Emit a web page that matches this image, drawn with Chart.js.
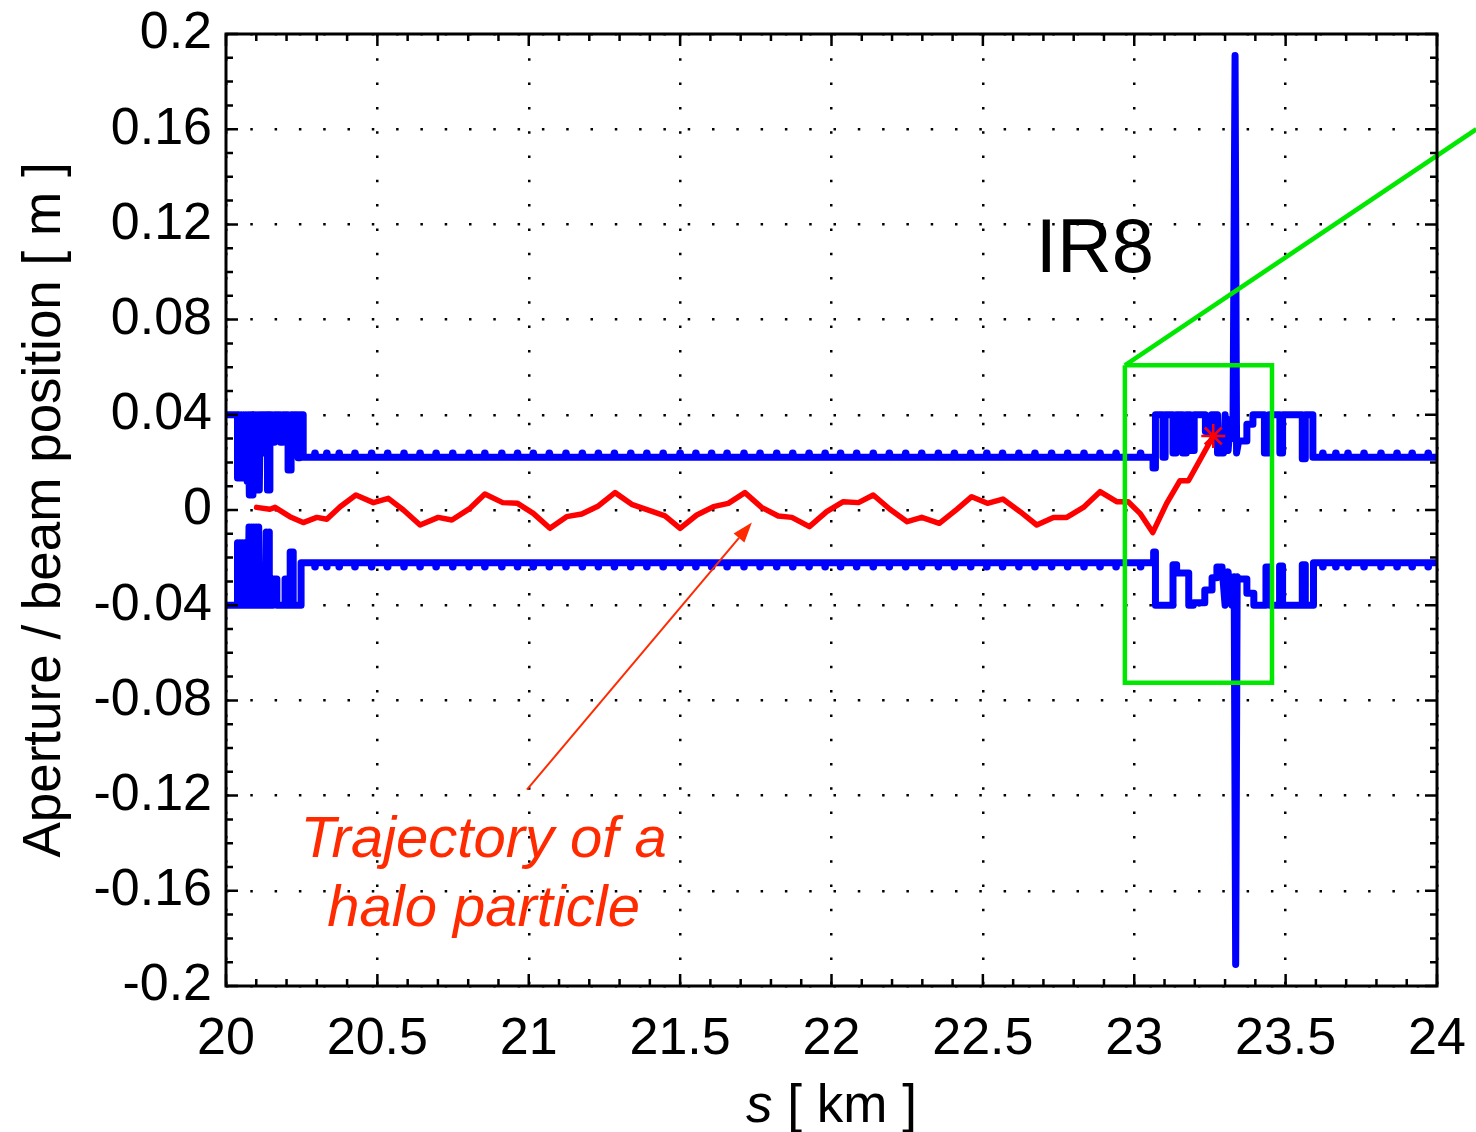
<!DOCTYPE html>
<html>
<head>
<meta charset="utf-8">
<title>Aperture / beam position around IR8</title>
<script src="https://cdn.jsdelivr.net/npm/chart.js@4.4.1/dist/chart.umd.min.js"></script>
<style>
  html, body { margin: 0; padding: 0; background: #fff; }
  canvas { display: block; }
</style>
</head>
<body>
<canvas id="aperture-chart" width="1476" height="1132"></canvas>
<script>
// Axis ticks
const xTickValues = [20, 20.5, 21, 21.5, 22, 22.5, 23, 23.5, 24];
const xTickLabels = ['20', '20.5', '21', '21.5', '22', '22.5', '23', '23.5', '24'];
const yTickValues = [-0.2, -0.16, -0.12, -0.08, -0.04, 0, 0.04, 0.08, 0.12, 0.16, 0.2];
const yTickLabels = ['-0.2', '-0.16', '-0.12', '-0.08', '-0.04', '0', '0.04', '0.08', '0.12', '0.16', '0.2'];

// Upper aperture [s (km), position (m)]
const upperAperture = [
  [20.000, 0.040], [20.038, 0.040], [20.038, 0.0134], [20.042, 0.040], [20.046, 0.0134],
  [20.050, 0.040], [20.054, 0.0134], [20.058, 0.040], [20.062, 0.0140], [20.066, 0.040],
  [20.070, 0.0120], [20.074, 0.040], [20.077, 0.0063], [20.080, 0.040], [20.083, 0.0063],
  [20.086, 0.040], [20.089, 0.0063], [20.092, 0.040], [20.095, 0.0084], [20.099, 0.040],
  [20.103, 0.0084], [20.107, 0.040], [20.110, 0.0084], [20.113, 0.040], [20.119, 0.040],
  [20.119, 0.024], [20.124, 0.024], [20.124, 0.040], [20.137, 0.040], [20.137, 0.0084],
  [20.141, 0.040], [20.145, 0.0084], [20.145, 0.040],
  [20.152, 0.040], [20.152, 0.0285], [20.160, 0.0285], [20.160, 0.040], [20.180, 0.040],
  [20.180, 0.0285], [20.188, 0.0285], [20.188, 0.040], [20.205, 0.040], [20.205, 0.0168],
  [20.215, 0.0168], [20.215, 0.040], [20.238, 0.040], [20.238, 0.022], [20.244, 0.022],
  [20.244, 0.040], [20.255, 0.040], [20.255, 0.0222],
  [23.062, 0.0222], [23.062, 0.0176], [23.070, 0.0176], [23.070, 0.040], [23.095, 0.040],
  [23.095, 0.0222], [23.102, 0.0222], [23.102, 0.040], [23.128, 0.040], [23.128, 0.024],
  [23.138, 0.024], [23.138, 0.040], [23.160, 0.040], [23.160, 0.024], [23.172, 0.024],
  [23.172, 0.040], [23.185, 0.040], [23.185, 0.025], [23.198, 0.025], [23.198, 0.040],
  [23.235, 0.040], [23.235, 0.033], [23.255, 0.033], [23.255, 0.040], [23.275, 0.040],
  [23.275, 0.024], [23.295, 0.024], [23.300, 0.040], [23.310, 0.025], [23.318, 0.038],
  [23.326, 0.030], [23.333, 0.191], [23.338, 0.024], [23.345, 0.029], [23.372, 0.029],
  [23.372, 0.036], [23.392, 0.036], [23.392, 0.040], [23.430, 0.040], [23.430, 0.024],
  [23.445, 0.024], [23.445, 0.040], [23.481, 0.040], [23.481, 0.024], [23.490, 0.024],
  [23.490, 0.040], [23.555, 0.040], [23.555, 0.0215], [23.565, 0.0215], [23.565, 0.040],
  [23.590, 0.040], [23.590, 0.0222], [24.000, 0.0222]
];

// Lower aperture [s (km), position (m)]
const lowerAperture = [
  [20.000, -0.040], [20.038, -0.040], [20.038, -0.0138], [20.042, -0.040], [20.046, -0.0138],
  [20.050, -0.040], [20.054, -0.0138], [20.058, -0.040], [20.062, -0.0138], [20.066, -0.040],
  [20.070, -0.0138], [20.073, -0.040], [20.076, -0.0071], [20.080, -0.040], [20.084, -0.0071],
  [20.088, -0.040], [20.092, -0.0071], [20.096, -0.040], [20.100, -0.0071], [20.104, -0.040],
  [20.108, -0.0071], [20.112, -0.040],
  [20.112, -0.040], [20.133, -0.040], [20.133, -0.0092], [20.138, -0.040], [20.143, -0.0092],
  [20.143, -0.040], [20.155, -0.040], [20.155, -0.029], [20.168, -0.029], [20.168, -0.040],
  [20.195, -0.040], [20.195, -0.029], [20.205, -0.029], [20.205, -0.040], [20.212, -0.040],
  [20.212, -0.0176], [20.222, -0.0176], [20.222, -0.040], [20.248, -0.040], [20.248, -0.0222],
  [23.064, -0.0222], [23.064, -0.0176], [23.070, -0.0176], [23.070, -0.040], [23.128, -0.040],
  [23.128, -0.023], [23.140, -0.023], [23.140, -0.0265], [23.180, -0.0265], [23.180, -0.040],
  [23.195, -0.040], [23.195, -0.039], [23.233, -0.039], [23.233, -0.0336], [23.257, -0.0336],
  [23.257, -0.0285], [23.273, -0.0285], [23.273, -0.024], [23.290, -0.024], [23.300, -0.040],
  [23.310, -0.026], [23.322, -0.040], [23.330, -0.028], [23.335, -0.191], [23.340, -0.028],
  [23.346, -0.029], [23.372, -0.029], [23.372, -0.035], [23.395, -0.035], [23.395, -0.040],
  [23.435, -0.040], [23.435, -0.024], [23.448, -0.024], [23.448, -0.040], [23.480, -0.040],
  [23.480, -0.0235], [23.490, -0.0235], [23.490, -0.040], [23.555, -0.040], [23.555, -0.023],
  [23.565, -0.023], [23.565, -0.040], [23.592, -0.040], [23.592, -0.0222], [24.000, -0.0222]
];

// Small aperture bumps along the arc (s in km) and their reach (m)
const apertureBumpS = [
  20.294, 20.333, 20.374, 20.426, 20.481, 20.534, 20.588, 20.641, 20.694, 20.749,
  20.803, 20.855, 20.911, 20.963, 21.015, 21.068, 21.123, 21.177, 21.230, 21.283,
  21.337, 21.390, 21.444, 21.500, 21.552, 21.604, 21.655, 21.711, 21.764, 21.819,
  21.872, 21.926, 21.979, 22.030, 22.083, 22.138, 22.191, 22.245, 22.298, 22.353,
  22.406, 22.460, 22.513, 22.565, 22.619, 22.672, 22.727, 22.780, 22.834, 22.887,
  22.940, 23.021, 23.623, 23.666, 23.706, 23.759, 23.815, 23.868, 23.918, 23.971
];
const apertureBumpReach = 0.0238;

// Halo particle trajectory
const trajectoryS = [
  20.101, 20.145, 20.162, 20.211, 20.255, 20.300, 20.333, 20.377, 20.429, 20.487,
  20.536, 20.586, 20.641, 20.701, 20.746, 20.806, 20.855, 20.914, 20.963, 21.015,
  21.070, 21.125, 21.175, 21.230, 21.285, 21.340, 21.400, 21.450, 21.500, 21.555,
  21.610, 21.659, 21.714, 21.769, 21.824, 21.869, 21.927, 21.984, 22.039, 22.089,
  22.138, 22.193, 22.250, 22.298, 22.356, 22.414, 22.463, 22.515, 22.566, 22.623,
  22.678, 22.733, 22.777, 22.832, 22.887, 22.942, 22.980, 23.019, 23.061, 23.107,
  23.151, 23.179, 23.217, 23.261
];
const trajectoryX = [
  0.0011, 0.0003, 0.0011, -0.0028, -0.0053, -0.0031, -0.0039, 0.0014, 0.0063, 0.0031,
  0.0049, 0.0000, -0.0063, -0.0031, -0.0042, 0.0007, 0.0067, 0.0031, 0.0028, -0.0014,
  -0.0077, -0.0028, -0.0017, 0.0017, 0.0073, 0.0024, -0.0003, -0.0025, -0.0077, -0.0021,
  0.0014, 0.0028, 0.0073, 0.0011, -0.0025, -0.0031, -0.0070, -0.0007, 0.0035, 0.0031,
  0.0063, 0.0003, -0.0049, -0.0031, -0.0056, 0.0003, 0.0056, 0.0028, 0.0046, -0.0007,
  -0.0063, -0.0031, -0.0031, 0.0011, 0.0077, 0.0035, 0.0035, -0.0014, -0.0095, 0.0028,
  0.0123, 0.0123, 0.0210, 0.0311
];
const lossPoint = [23.261, 0.0311];

// Zoom box around IR8 and its lead line
const zoomBox = [[22.969, 0.0608], [23.455, 0.0608], [23.455, -0.0726], [22.969, -0.0726], [22.969, 0.0608]];
const zoomLead = [[22.969, 0.0608], [24.13, 0.160]];

// Annotations (data coordinates)
const irLabel = { text: 'IR8', s: 22.675, x: 0.0999 };
const haloLabelLines = ['Trajectory of a', 'halo particle'];
const haloLabelAt = [20.851, -0.146];
const arrowFrom = [20.994, -0.1175];
const arrowTo = [21.737, -0.0053];

const FONT = '"Liberation Sans", Arial, Helvetica, sans-serif';
const annotationColor = '#ff2a00';

function toPoints(pairs) {
  return pairs.map(p => ({ x: p[0], y: p[1] }));
}

const bumpPoints = apertureBumpS.map(s => ({ x: s, y: apertureBumpReach }))
  .concat(apertureBumpS.map(s => ({ x: s, y: -apertureBumpReach })));

const trajectoryPoints = trajectoryS.map((s, i) => ({ x: s, y: trajectoryX[i] }));

// Frame with inward ticks on all four sides
const frameAndTicks = {
  id: 'frameAndTicks',
  afterDatasetsDraw(chart) {
    const { ctx, chartArea: a, scales: { x, y } } = chart;
    ctx.save();
    ctx.strokeStyle = '#000';
    ctx.lineWidth = 2.5;
    ctx.beginPath();
    for (let i = 0; i <= 40; i++) {
      const px = x.getPixelForValue(20 + i * 0.1);
      const len = i % 5 === 0 ? 12 : 7;
      ctx.moveTo(px, a.bottom); ctx.lineTo(px, a.bottom - len);
      ctx.moveTo(px, a.top); ctx.lineTo(px, a.top + len);
    }
    for (let i = 0; i <= 40; i++) {
      const py = y.getPixelForValue(-0.2 + i * 0.01);
      const len = i % 4 === 0 ? 12 : 7;
      ctx.moveTo(a.left, py); ctx.lineTo(a.left + len, py);
      ctx.moveTo(a.right, py); ctx.lineTo(a.right - len, py);
    }
    ctx.stroke();
    ctx.lineWidth = 3;
    ctx.strokeRect(a.left, a.top, a.right - a.left, a.bottom - a.top);
    ctx.restore();
  }
};

// Texts, arrow and axis titles
const annotations = {
  id: 'annotations',
  afterDraw(chart) {
    const { ctx, chartArea: a, scales: { x, y } } = chart;
    ctx.save();

    // IR8 label
    ctx.fillStyle = '#000';
    ctx.font = '76px ' + FONT;
    ctx.textAlign = 'left';
    ctx.textBaseline = 'alphabetic';
    ctx.fillText(irLabel.text, x.getPixelForValue(irLabel.s), y.getPixelForValue(irLabel.x));

    // halo particle label
    ctx.fillStyle = annotationColor;
    ctx.font = 'italic 58px ' + FONT;
    ctx.textAlign = 'center';
    const hx = x.getPixelForValue(haloLabelAt[0]);
    const hy = y.getPixelForValue(haloLabelAt[1]);
    haloLabelLines.forEach((line, i) => ctx.fillText(line, hx, hy + i * 69));

    // arrow
    const x0 = x.getPixelForValue(arrowFrom[0]), y0 = y.getPixelForValue(arrowFrom[1]);
    const x1 = x.getPixelForValue(arrowTo[0]), y1 = y.getPixelForValue(arrowTo[1]);
    const ang = Math.atan2(y1 - y0, x1 - x0);
    const headLen = 20, headHalf = 7;
    const bx = x1 - headLen * Math.cos(ang), by = y1 - headLen * Math.sin(ang);
    ctx.strokeStyle = annotationColor;
    ctx.lineWidth = 2;
    ctx.beginPath();
    ctx.moveTo(x0, y0);
    ctx.lineTo(bx, by);
    ctx.stroke();
    ctx.beginPath();
    ctx.moveTo(x1, y1);
    ctx.lineTo(bx + headHalf * Math.sin(ang), by - headHalf * Math.cos(ang));
    ctx.lineTo(bx - headHalf * Math.sin(ang), by + headHalf * Math.cos(ang));
    ctx.closePath();
    ctx.fill();

    // x axis title: italic s
    ctx.fillStyle = '#000';
    const cx = (a.left + a.right) / 2;
    ctx.font = 'italic 53px ' + FONT;
    const sW = ctx.measureText('s').width;
    ctx.font = '53px ' + FONT;
    const restW = ctx.measureText(' [ km ]').width;
    const startX = cx - (sW + restW) / 2;
    ctx.textAlign = 'left';
    ctx.font = 'italic 53px ' + FONT;
    ctx.fillText('s', startX, 1122);
    ctx.font = '53px ' + FONT;
    ctx.fillText(' [ km ]', startX + sW, 1122);

    // y axis title
    ctx.translate(60, (a.top + a.bottom) / 2);
    ctx.rotate(-Math.PI / 2);
    ctx.textAlign = 'center';
    ctx.fillText('Aperture / beam position [ m ]', 0, 0);
    ctx.restore();
  }
};

Chart.defaults.font.family = FONT;
Chart.defaults.color = '#000';

new Chart(document.getElementById('aperture-chart'), {
  type: 'scatter',
  data: {
    datasets: [
      {
        label: 'zoom box',
        data: toPoints(zoomBox),
        showLine: true,
        borderColor: '#00e800',
        borderWidth: 4.5,
        pointRadius: 0,
        clip: false
      },
      {
        label: 'zoom lead',
        data: toPoints(zoomLead),
        showLine: true,
        borderColor: '#00e800',
        borderWidth: 4.5,
        pointRadius: 0,
        clip: false
      },
      {
        label: 'loss point',
        data: toPoints([lossPoint]),
        pointStyle: 'star',
        pointRadius: 12,
        borderColor: '#ff0000',
        backgroundColor: '#ff0000',
        pointBorderWidth: 2.5
      },
      {
        label: 'trajectory',
        data: trajectoryPoints,
        showLine: true,
        borderColor: '#ff0000',
        borderWidth: 5.5,
        borderJoinStyle: 'round',
        borderCapStyle: 'round',
        pointRadius: 0
      },
      {
        label: 'aperture bumps',
        data: bumpPoints,
        pointRadius: 3.8,
        borderWidth: 0,
        backgroundColor: '#0000ff'
      },
      {
        label: 'upper aperture',
        data: toPoints(upperAperture),
        showLine: true,
        borderColor: '#0000ff',
        borderWidth: 7,
        borderJoinStyle: 'round',
        borderCapStyle: 'round',
        pointRadius: 0
      },
      {
        label: 'lower aperture',
        data: toPoints(lowerAperture),
        showLine: true,
        borderColor: '#0000ff',
        borderWidth: 7,
        borderJoinStyle: 'round',
        borderCapStyle: 'round',
        pointRadius: 0
      }
    ]
  },
  options: {
    responsive: false,
    animation: false,
    events: [],
    layout: { padding: { left: 0, right: 39, top: 34, bottom: 0 } },
    plugins: {
      legend: { display: false },
      tooltip: { enabled: false }
    },
    scales: {
      x: {
        type: 'linear',
        min: 20,
        max: 24,
        afterBuildTicks: scale => { scale.ticks = xTickValues.map(v => ({ value: v })); },
        afterFit: scale => {
          scale.height = 146;
          scale.paddingLeft = 0;
          scale.paddingRight = 0;
        },
        ticks: {
          font: { size: 52 },
          padding: 22,
          maxRotation: 0,
          autoSkip: false,
          callback: (value, index) => xTickLabels[index]
        },
        grid: { color: '#000', lineWidth: 2.5, drawTicks: false },
        border: { display: false, dash: [2.5, 21.8] }
      },
      y: {
        type: 'linear',
        min: -0.2,
        max: 0.2,
        afterBuildTicks: scale => { scale.ticks = yTickValues.map(v => ({ value: v })); },
        afterFit: scale => {
          scale.width = 226;
          scale.paddingTop = 0;
          scale.paddingBottom = 0;
        },
        ticks: {
          font: { size: 52 },
          padding: 14,
          autoSkip: false,
          callback: (value, index) => yTickLabels[index]
        },
        grid: { color: '#000', lineWidth: 2.5, drawTicks: false },
        border: { display: false, dash: [2.5, 21.8] }
      }
    }
  },
  plugins: [frameAndTicks, annotations]
});
</script>
</body>
</html>
